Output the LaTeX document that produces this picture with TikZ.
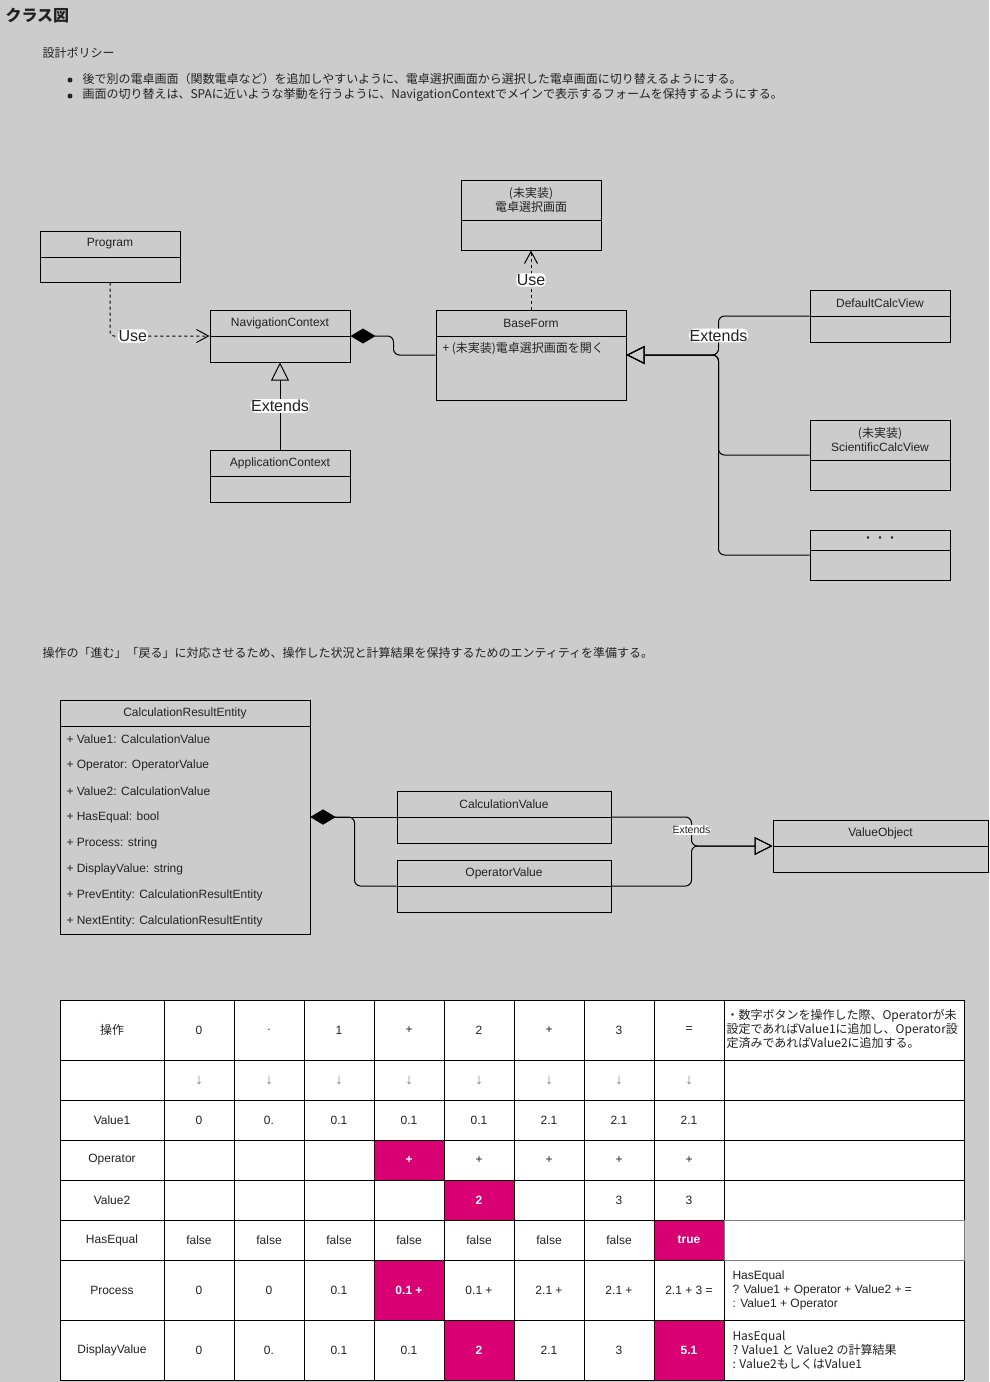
\documentclass[tikz,border=0pt]{standalone}
\usepackage{fontspec}
\setmainfont{Liberation Sans}
\newfontfamily\jp{Noto Sans CJK JP}
\usetikzlibrary{arrows.meta}

\definecolor{bg}{HTML}{CCCCCC}
\definecolor{hl}{HTML}{D80073}
\definecolor{txt}{HTML}{222222}
\definecolor{arrgray}{HTML}{808080}

\tikzset{
  cls/.style={draw, inner sep=0pt},
  ttl/.style={inner sep=0pt, align=center},
  attr/.style={inner sep=0pt, anchor=west},
  lbl/.style={fill=white, inner xsep=0.5pt, inner ysep=1pt, font=\fontsize{16}{18}\selectfont},
  lblsm/.style={fill=white, inner xsep=0.5pt, inner ysep=1pt, font=\fontsize{10.5}{12}\selectfont},
  use/.style={dash pattern=on 3pt off 3pt, arrows={-Straight Barb[length=12pt,width=13pt]}, rounded corners=4pt},
  ext/.style={arrows={-Triangle[open,length=18pt,width=18pt]}, rounded corners=6pt},
  comp/.style={arrows={Diamond[length=25pt,width=15pt]-}, rounded corners=6pt},
  jpfont/.style={font=\jp\fontsize{12}{14}\selectfont},
  dot/.style={circle, fill=txt, inner sep=0pt, minimum size=5pt},
  hlcell/.style={text=white, font=\bfseries\fontsize{12}{14}\selectfont},
  note/.style={inner sep=0pt, anchor=west, align=left},
}

% name, x1, y1, x2, y2, header height, title
\newcommand{\umlbox}[7]{%
  \node[cls, minimum width={#4-#2}, minimum height={#5-#3}] (#1) at ({(#2+#4)/2},{(#3+#5)/2}) {};
  \draw ({#2},{#3+#6}) -- ({#4},{#3+#6});
  \node[ttl] (#1-t) at ({(#2+#4)/2},{#3+#6/2}) {#7};
}

\begin{document}
\begin{tikzpicture}[x=1pt, y=-1pt, line width=1pt, text=txt, font=\fontsize{12}{14}\selectfont]
  \fill[bg] (0,0) rectangle (989,1382);
  \useasboundingbox (0,0) rectangle (989,1382);

  \node[anchor=west, inner sep=0pt, font=\jp\bfseries\fontsize{16}{18}\selectfont] (title) at (5,16) {クラス図};
  \node[anchor=west, inner sep=0pt, jpfont] (policy) at (42,53) {設計ポリシー};
  \node[dot] (b1) at (70,80) {};
  \node[dot] (b2) at (70,96) {};
  \node[anchor=west, inner sep=0pt, jpfont] (p1) at (82,79) {後で別の電卓画面（関数電卓など）を追加しやすいように、電卓選択画面から選択した電卓画面に切り替えるようにする。};
  \node[anchor=west, inner sep=0pt, jpfont] (p2) at (82,95) {画面の切り替えは、SPAに近いような挙動を行うように、NavigationContextでメインで表示するフォームを保持するようにする。};

  % class diagram
  \umlbox{prog}{40}{231}{180}{282}{26}{Program}
  \umlbox{nav}{210}{310}{350}{362}{26}{NavigationContext}
  \umlbox{app}{210}{450}{350}{502}{26}{ApplicationContext}
  \umlbox{sel}{461}{180}{601}{250}{40}{{\jp (未実装)}\\{\jp 電卓選択画面}}
  \umlbox{base}{436}{310}{626}{400}{26}{BaseForm}
  \umlbox{dcv}{810}{290}{950}{342}{26}{DefaultCalcView}
  \umlbox{scv}{810}{420}{950}{490}{40}{{\jp (未実装)}\\ScientificCalcView}
  \umlbox{etc}{810}{530}{950}{580}{20}{{\jp ・・・}}
  \node[attr, jpfont] (base-m) at (442,349) {+ (未実装)電卓選択画面を開く};

  \draw[use] (prog.south) |- node[lbl, pos=0.615] {Use} (nav.west);
  \draw[ext] (app.north) -- node[lbl] {Extends} (nav.south);
  \draw[comp] (nav.east) -- ++(43,0) |- (base.west);
  \draw[use] (base.north) -- node[lbl] {Use} (sel.south);
  \coordinate (jn) at ([xshift=92pt]base.east);
  \draw[ext] (scv.west) -| (jn) -- (base.east);
  \draw[ext] (etc.west) -| (jn) -- (base.east);
  \draw[ext] (dcv.west) -| node[lbl, pos=0.75] {Extends} (jn) -- (base.east);

  \node[anchor=west, inner sep=0pt, jpfont] (p3) at (42,653) {操作の「進む」「戻る」に対応させるため、操作した状況と計算結果を保持するためのエンティティを準備する。};

  % entity
  \umlbox{cre}{60}{700}{310}{934}{26}{CalculationResultEntity}
  \foreach \a [count=\i] in {Value1: CalculationValue, Operator: OperatorValue, Value2: CalculationValue, HasEqual: bool, Process: string, DisplayValue: string, PrevEntity: CalculationResultEntity, NextEntity: CalculationResultEntity}
    \node[attr] (cre-a\i) at (66,{713.5+26*\i}) {+ \a};
  \umlbox{cv}{397}{791}{611}{843}{26}{CalculationValue}
  \umlbox{ov}{397}{860}{611}{912}{26}{OperatorValue}
  \umlbox{vo}{773}{820}{988}{872}{26}{ValueObject}

  \draw[comp] (cre.east) -- (cv.west);
  \draw[comp] (cre.east) -- ++(44,0) |- (ov.west);
  \coordinate (jn2) at ([xshift=-81pt]vo.west);
  \draw[ext] (ov.east) -| (jn2) -- (vo.west);
  \draw[ext] (cv.east) -| node[lblsm, pos=0.725] {Extends} (jn2) -- (vo.west);

  % table
  \fill[white] (60,1000) rectangle (964,1380);
  \foreach \xa/\ya/\yb/\t [count=\k] in {374/1140/1180/+, 444/1180/1220/2, 654/1220/1260/true, 374/1260/1320/0.1 +, 444/1320/1380/2, 654/1320/1380/5.1}{
    \fill[hl] (\xa,\ya) rectangle ({\xa+70},\yb);
    \node[hlcell] (hl\k) at ({\xa+35},{(\ya+\yb)/2}) {\t};
  }
  \foreach \x in {60,164,234,304,374,444,514,584,654,724,964}
    \draw (\x,1000) -- (\x,1380);
  \foreach \y in {1000,1060,1100,1140,1180,1220,1260,1320,1380}
    \draw (60,\y) -- (964,\y);
  \draw[gray] (724,1220) rectangle (964,1260);

  \node[jpfont] (h1) at (112,1030) {操作};
  \node (h3) at (112,1120) {Value1};
  \node (h4) at (112,1160) {Operator};
  \node (h5) at (112,1200) {Value2};
  \node (h6) at (112,1240) {HasEqual};
  \node (h7) at (112,1290) {Process};
  \node (h8) at (112,1350) {DisplayValue};
  \foreach \i/\t in {1/0,2/.,3/1,4/+,5/2,6/+,7/3,8/=}
    \node (r1c\i) at ({129+70*\i},1030) {\t};
  \foreach \i in {1,...,8}
    \node[text=arrgray, font=\fontsize{15}{16}\selectfont] (r2c\i) at ({129+70*\i},1080) {↓};
  \foreach \i/\t in {1/0,2/0.,3/0.1,4/0.1,5/0.1,6/2.1,7/2.1,8/2.1}
    \node (r3c\i) at ({129+70*\i},1120) {\t};
  \foreach \i in {5,...,8}
    \node (r4c\i) at ({129+70*\i},1160) {+};
  \foreach \i in {7,8}
    \node (r5c\i) at ({129+70*\i},1200) {3};
  \foreach \i in {1,...,7}
    \node (r6c\i) at ({129+70*\i},1240) {false};
  \foreach \i/\t in {1/0,2/0,3/0.1,5/0.1 +,6/2.1 +,7/2.1 +,8/2.1 + 3 =}
    \node (r7c\i) at ({129+70*\i},1290) {\t};
  \foreach \i/\t in {1/0,2/0.,3/0.1,4/0.1,6/2.1,7/3}
    \node (r8c\i) at ({129+70*\i},1350) {\t};

  \node[note, jpfont] (n1) at (726,1029) {・数字ボタンを操作した際、Operatorが未\\設定であればValue1に追加し、Operator設\\定済みであればValue2に追加する。};
  \node[note] (n7) at (732,1290) {HasEqual\\? Value1 + Operator + Value2 + =\\: Value1 + Operator};
  \node[note, jpfont] (n8) at (732,1350) {HasEqual\\? Value1 と Value2 の計算結果\\: Value2もしくはValue1};
\end{tikzpicture}
\end{document}
